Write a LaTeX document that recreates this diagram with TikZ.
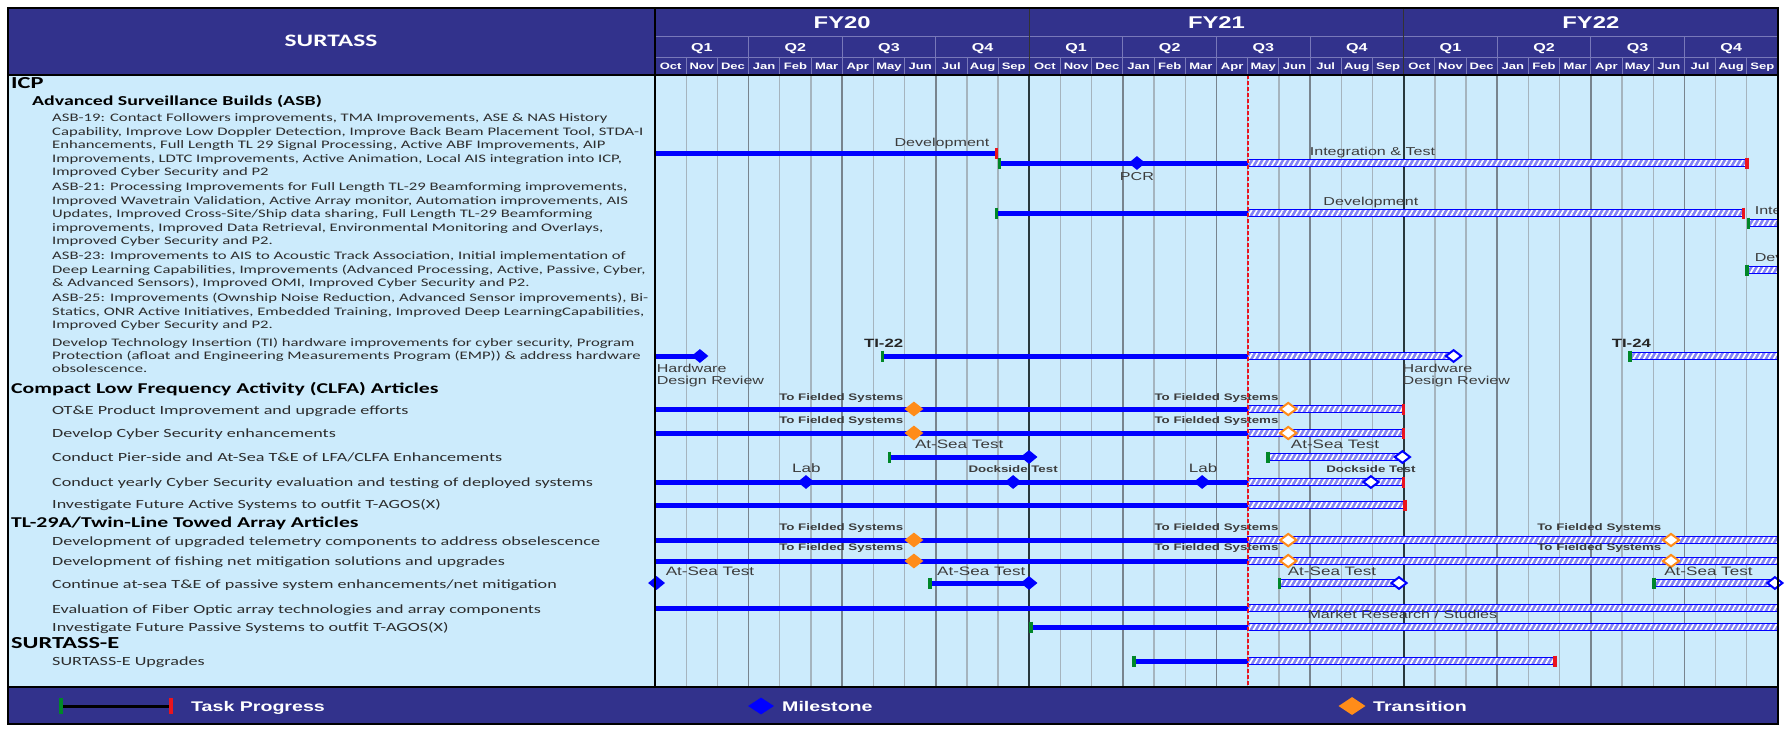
\documentclass[tikz,border=0pt]{standalone}
\usepackage{fontspec}
\setmainfont{Carlito}[FakeStretch=1.45]
\newfontfamily\af{Liberation Sans}[FakeStretch=1.4]
\usetikzlibrary{shapes.geometric,patterns.meta}
\definecolor{navy}{RGB}{50,50,140}
\definecolor{bodyc}{RGB}{204,235,252}
\definecolor{itemc}{RGB}{45,45,45}
\definecolor{lblc}{RGB}{60,60,60}
\definecolor{hatchbg}{RGB}{130,130,245}
\definecolor{gtick}{RGB}{0,135,40}
\definecolor{rtick}{RGB}{235,20,30}
\definecolor{orng}{RGB}{255,140,25}
\definecolor{mline}{RGB}{165,180,190}
\definecolor{qline}{RGB}{120,132,142}
\definecolor{yline}{RGB}{40,55,60}
\definecolor{hline}{RGB}{120,120,185}
\newcommand\gsolid[3]{\draw[solidbar] (#1,#3) -- (#2,#3);}
\newcommand\ghatch[3]{\path[hatchbar] (#1,#3-3.5) rectangle (#2,#3+3.5);}
\newcommand\gstart[2]{\draw[starttick] (#1,#2-5.5) -- (#1,#2+5.5);}
\newcommand\gend[2]{\draw[endtick] (#1,#2-5.5) -- (#1,#2+5.5);}
\newcommand\mlines[1]{\begin{tabular}[t]{@{}l@{}}#1\end{tabular}}
\begin{document}
\begin{tikzpicture}[x=1pt,y=-1pt,
  item/.style={anchor=base west,inner sep=0pt,text=itemc,font=\fontsize{12.5}{14}\selectfont},
  asbitem/.style={anchor=base west,inner sep=0pt,text=itemc,font=\fontsize{11.5}{13.6}\selectfont},
  head/.style={anchor=base west,inner sep=0pt,text=black,font=\fontsize{15}{17}\selectfont\bfseries},
  lbl/.style={anchor=base,inner sep=0pt,text=lblc,font=\af\fontsize{11.5}{12}\selectfont},
  biglbl/.style={anchor=base,inner sep=0pt,text=lblc,font=\af\fontsize{12.2}{13}\selectfont},
  smlbl/.style={anchor=base,inner sep=0pt,text=lblc,font=\af\bfseries\fontsize{9.5}{10}\selectfont},
  tilbl/.style={anchor=base,inner sep=0pt,text=black!85,font=\af\bfseries\fontsize{12}{13}\selectfont},
  fyl/.style={anchor=base,inner sep=0pt,text=white,font=\af\bfseries\fontsize{17}{18}\selectfont},
  ql/.style={anchor=base,inner sep=0pt,text=white,font=\af\bfseries\fontsize{11.5}{12}\selectfont},
  ml/.style={anchor=base,inner sep=0pt,text=white,font=\af\bfseries\fontsize{9.3}{10}\selectfont},
  legl/.style={anchor=base west,inner sep=0pt,text=white,font=\af\bfseries\fontsize{14}{15}\selectfont},
  solidbar/.style={draw=blue,line width=5pt},
  hatchbar/.style={preaction={fill=hatchbg},pattern={Lines[angle=60,distance=4.5pt,line width=1.7pt]},pattern color=white,draw=blue,line width=1pt},
  starttick/.style={draw=gtick,line width=3.5pt},
  endtick/.style={draw=rtick,line width=3.5pt},
  ms/.style={diamond,fill=blue,inner sep=0pt,minimum width=17pt,minimum height=14pt},
  msh/.style={diamond,draw=blue,fill=white,line width=2pt,inner sep=0pt,minimum width=16pt,minimum height=12.5pt},
  tr/.style={diamond,fill=orng,inner sep=0pt,minimum width=19pt,minimum height=15pt},
  trh/.style={diamond,draw=orng,fill=white,line width=2pt,inner sep=0pt,minimum width=17pt,minimum height=13pt},
  monthline/.style={draw=mline,line width=1.3pt},
  quarterline/.style={draw=qline,line width=1.8pt},
  yearline/.style={draw=yline,line width=1.8pt},
  hdrline/.style={draw=hline,line width=0.9pt}
]
\useasboundingbox (0,0) rectangle (1787,731);
\fill[white] (0,0) rectangle (1787,731);
% backgrounds
\fill[bodyc] (8,75) rectangle (1778,687);
\fill[navy] (8,8) rectangle (1778,75);
\fill[navy] (8,687) rectangle (1778,724);
% header left cell
\node[anchor=base,inner sep=0pt,text=white,font=\fontsize{17.5}{19}\selectfont\bfseries] (surtass) at (331,46.5) {SURTASS};
% left column texts
\node[head,font=\fontsize{16.8}{18}\selectfont\bfseries] (icp) at (11,88.5) {ICP};
\node[head,font=\fontsize{13.7}{16}\selectfont\bfseries] (asb) at (32,105) {Advanced Surveillance Builds (ASB)};
\node[asbitem] (asb19) at (52,121.5) {\mlines{ASB-19: Contact Followers improvements, TMA Improvements, ASE \& NAS History\\Capability, Improve Low Doppler Detection, Improve Back Beam Placement Tool, STDA-I\\Enhancements, Full Length TL 29 Signal Processing, Active ABF Improvements, AIP\\Improvements, LDTC Improvements, Active Animation, Local AIS integration into ICP,\\Improved Cyber Security and P2}};
\node[asbitem] (asb21) at (52,190.5) {\mlines{ASB-21: Processing Improvements for Full Length TL-29 Beamforming improvements,\\Improved Wavetrain Validation, Active Array monitor, Automation improvements, AIS\\Updates, Improved Cross-Site/Ship data sharing, Full Length TL-29 Beamforming\\improvements, Improved Data Retrieval, Environmental Monitoring and Overlays,\\Improved Cyber Security and P2.}};
\node[asbitem] (asb23) at (52,259.5) {\mlines{ASB-23: Improvements to AIS to Acoustic Track Association, Initial implementation of\\Deep Learning Capabilities, Improvements (Advanced Processing, Active, Passive, Cyber,\\\& Advanced Sensors), Improved OMI, Improved Cyber Security and P2.}};
\node[asbitem] (asb25) at (52,301.5) {\mlines{ASB-25: Improvements (Ownship Noise Reduction, Advanced Sensor improvements), Bi-\\Statics, ONR Active Initiatives, Embedded Training, Improved Deep LearningCapabilities,\\Improved Cyber Security and P2.}};
\node[asbitem,font=\fontsize{11.5}{12.8}\selectfont] (tiitem) at (52,346.5) {\mlines{Develop Technology Insertion (TI) hardware improvements for cyber security, Program\\Protection (afloat and Engineering Measurements Program (EMP)) \& address hardware\\obsolescence.}};
\node[head] (clfa) at (11,393) {Compact Low Frequency Activity (CLFA) Articles};
\node[item] (ote) at (52,414) {OT\&E Product Improvement and upgrade efforts};
\node[item] (cyber) at (52,437) {Develop Cyber Security enhancements};
\node[item] (pier) at (52,461) {Conduct Pier-side and At-Sea T\&E of LFA/CLFA Enhancements};
\node[item] (yearly) at (52,486) {Conduct yearly Cyber Security evaluation and testing of deployed systems};
\node[item] (activ) at (52,508) {Investigate Future Active Systems to outfit T-AGOS(X)};
\node[head] (tl29) at (11,527) {TL-29A/Twin-Line Towed Array Articles};
\node[item] (telem) at (52,545) {Development of upgraded telemetry components to address obselescence};
\node[item] (fish) at (52,565) {Development of fishing net mitigation solutions and upgrades};
\node[item] (contin) at (52,588) {Continue at-sea T\&E of passive system enhancements/net mitigation};
\node[item] (fiber) at (52,613) {Evaluation of Fiber Optic array technologies and array components};
\node[item] (passv) at (52,631) {Investigate Future Passive Systems to outfit T-AGOS(X)};
\node[head,font=\fontsize{16.8}{18}\selectfont\bfseries] (surte) at (11,648.5) {SURTASS-E};
\node[item] (upgr) at (52,665) {SURTASS-E Upgrades};
% chart
\begin{scope}[shift={(655,0)},x=31.194pt]
  % header grid
  \draw[hdrline] (0,36.5) -- (36,36.5);
  \draw[hdrline] (0,57) -- (36,57);
  \foreach \m in {1,...,35} \draw[hdrline] (\m,57) -- (\m,75);
  \foreach \m in {3,6,9,15,18,21,27,30,33} \draw[hdrline] (\m,36.5) -- (\m,57);
  \foreach \m in {12,24} \draw[draw=black!80,line width=1.2pt] (\m,8) -- (\m,75);
  % header labels
  \foreach \yr [count=\k from 0] in {20,21,22}
    \node[fyl] (fy\yr) at ({\k*12+6},28) {FY\yr};
  \foreach \q [evaluate=\q as \qn using {int(mod(\q,4)+1)}] in {0,...,11}
    \node[ql] (q\q) at ({\q*3+1.5},51.5) {Q\qn};
  \foreach \y in {0,1,2}
    \foreach \mn [count=\k from 0] in {Oct,Nov,Dec,Jan,Feb,Mar,Apr,May,Jun,Jul,Aug,Sep}
      \node[ml] (mon\y-\k) at ({\y*12+\k+0.5},69.8) {\mn};
  % body grid
  \foreach \m in {1,...,35} \draw[monthline] (\m,75) -- (\m,687);
  \foreach \m in {3,6,9,15,18,21,27,30,33} \draw[quarterline] (\m,75) -- (\m,687);
  \foreach \m in {12,24} \draw[yearline] (\m,75) -- (\m,687);
  % ASB-19
  \gsolid{0}{10.95}{153} \gend{10.95}{153}
  \node[lbl] (dev19) at (9.2,146) {Development};
  \gsolid{11.05}{19}{163} \ghatch{19}{35}{163} \gstart{11.05}{163} \gend{35}{163}
  \node[lbl] (it19) at (23.0,155) {Integration \& Test};
  \node[ms] (pcr) at (15.45,163) {};
  \node[lbl] (pcrl) at (15.45,180) {PCR};
  % ASB-21
  \gsolid{10.95}{19}{213} \ghatch{19}{34.9}{213} \gstart{10.95}{213} \gend{34.9}{213}
  \node[lbl] (dev21) at (22.95,205) {Development};
  % ASB-21 / ASB-23 next builds (clipped at chart edge)
  \begin{scope}
    \clip (0,75) rectangle (36,687);
    \ghatch{35.05}{36.2}{223}
    \node[lbl,anchor=base west] (it21) at (35.25,214) {Integration \& Test};
    \ghatch{35.0}{36.2}{270}
    \node[lbl,anchor=base west] (dev23) at (35.25,261) {Development};
  \end{scope}
  \gstart{35.05}{223} \gstart{35.0}{270}
  % TI row
  \gsolid{0}{1.44}{356}
  \node[ms] (hdr1) at (1.44,356) {};
  \node[lbl,anchor=base west] (hdr1l) at (0.05,372) {\mlines{Hardware\\Design Review}};
  \gsolid{7.3}{19}{356} \ghatch{19}{25.6}{356} \gstart{7.3}{356}
  \node[tilbl] (ti22) at (7.33,347) {TI-22};
  \node[msh] (hdr2) at (25.6,356) {};
  \node[lbl,anchor=base west] (hdr2l) at (23.96,372) {\mlines{Hardware\\Design Review}};
  \begin{scope}
    \clip (0,75) rectangle (36,687);
    \ghatch{31.26}{36.2}{356}
  \end{scope}
  \gstart{31.26}{356}
  \node[tilbl] (ti24) at (31.3,347) {TI-24};
  % CLFA OT&E and Cyber
  \foreach \yy/\ly in {409/400.5,433/423.5} {
    \gsolid{0}{19}{\yy} \ghatch{19}{24}{\yy} \gend{24}{\yy}
    \node[tr] (tra\yy) at (8.3,\yy) {};
    \node[trh] (trb\yy) at (20.3,\yy) {};
    \node[smlbl] (tfa\yy) at (5.97,\ly) {To Fielded Systems};
    \node[smlbl] (tfb\yy) at (18.0,\ly) {To Fielded Systems};
  }
  % Pier-side
  \gsolid{7.52}{11.99}{457} \gstart{7.52}{457}
  \node[ms] (ps1) at (11.99,457) {};
  \node[biglbl] (ps1l) at (9.75,448.5) {At-Sea Test};
  \ghatch{19.65}{23.96}{457} \gstart{19.65}{457}
  \node[msh] (ps2) at (23.96,457) {};
  \node[biglbl] (ps2l) at (21.8,448.5) {At-Sea Test};
  % Yearly cyber
  \gsolid{0}{19}{482} \ghatch{19}{24}{482} \gend{24}{482}
  \node[ms] (lab1) at (4.84,482) {};
  \node[biglbl] (lab1l) at (4.85,472.5) {Lab};
  \node[ms] (dock1) at (11.48,482) {};
  \node[smlbl] (dock1l) at (11.48,472.5) {Dockside Test};
  \node[ms] (lab2) at (17.54,482) {};
  \node[biglbl] (lab2l) at (17.57,472.5) {Lab};
  \node[msh] (dock2) at (22.95,482) {};
  \node[smlbl] (dock2l) at (22.95,472.5) {Dockside Test};
  % Investigate active
  \gsolid{0}{19}{505} \ghatch{19}{24.05}{505} \gend{24.05}{505}
  % TL-29A telemetry and fishing
  \foreach \yy/\ly in {540/530.5,561/550.5} {
    \gsolid{0}{19}{\yy} \ghatch{19}{36}{\yy}
    \node[tr] (tla\yy) at (8.3,\yy) {};
    \node[trh] (tlb\yy) at (20.3,\yy) {};
    \node[trh] (tlc\yy) at (32.57,\yy) {};
    \node[smlbl] (tla\yy l) at (5.97,\ly) {To Fielded Systems};
    \node[smlbl] (tlb\yy l) at (18.0,\ly) {To Fielded Systems};
    \node[smlbl] (tlc\yy l) at (30.27,\ly) {To Fielded Systems};
  }
  % Continue at-sea
  \node[ms] (cs0) at (0.05,583) {};
  \node[biglbl] (cs0l) at (1.76,575.5) {At-Sea Test};
  \gsolid{8.82}{11.99}{583} \gstart{8.82}{583}
  \node[ms] (cs1) at (11.99,583) {};
  \node[biglbl] (cs1l) at (10.46,575.5) {At-Sea Test};
  \ghatch{20.02}{23.85}{583} \gstart{20.02}{583}
  \node[msh] (cs2) at (23.85,583) {};
  \node[biglbl] (cs2l) at (21.7,575.5) {At-Sea Test};
  \ghatch{32.02}{35.9}{583} \gstart{32.02}{583}
  \node[msh] (cs3) at (35.9,583) {};
  \node[biglbl] (cs3l) at (33.77,575.5) {At-Sea Test};
  % Fiber optic
  \gsolid{0}{19}{608} \ghatch{19}{36}{608}
  \node[lbl] (mrs) at (23.96,618) {Market Research / Studies};
  % Passive
  \gsolid{12.05}{19}{627} \ghatch{19}{36}{627} \gstart{12.05}{627}
  % SURTASS-E
  \gsolid{15.35}{19}{661} \ghatch{19}{28.85}{661} \gstart{15.35}{661} \gend{28.85}{661}
  % status date line
  \draw[rtick,line width=1.6pt,dash pattern=on 4pt off 2pt] (19,75) -- (19,687);
\end{scope}
% frame lines
\draw[black,line width=1.5pt] (655,8) -- (655,687);
\draw[black,line width=1.2pt] (8,75) -- (1778,75);
\draw[black,line width=1.2pt] (8,687) -- (1778,687);
\draw[black,line width=1.5pt] (8,8) rectangle (1778,724);
% legend
\draw[black,line width=3pt] (61,706) -- (171,706);
\draw[gtick,line width=4pt] (61,698) -- (61,714);
\draw[rtick,line width=4pt] (171,698) -- (171,714);
\node[legl] (legtp) at (191,711) {Task Progress};
\node[diamond,fill=blue,inner sep=0pt,minimum width=26pt,minimum height=17pt] (legms) at (761,706) {};
\node[legl] (legmsl) at (782,711) {Milestone};
\node[diamond,fill=orng,inner sep=0pt,minimum width=27pt,minimum height=18pt] (legtr) at (1352,706) {};
\node[legl] (legtrl) at (1373,711) {Transition};
\end{tikzpicture}
\end{document}
